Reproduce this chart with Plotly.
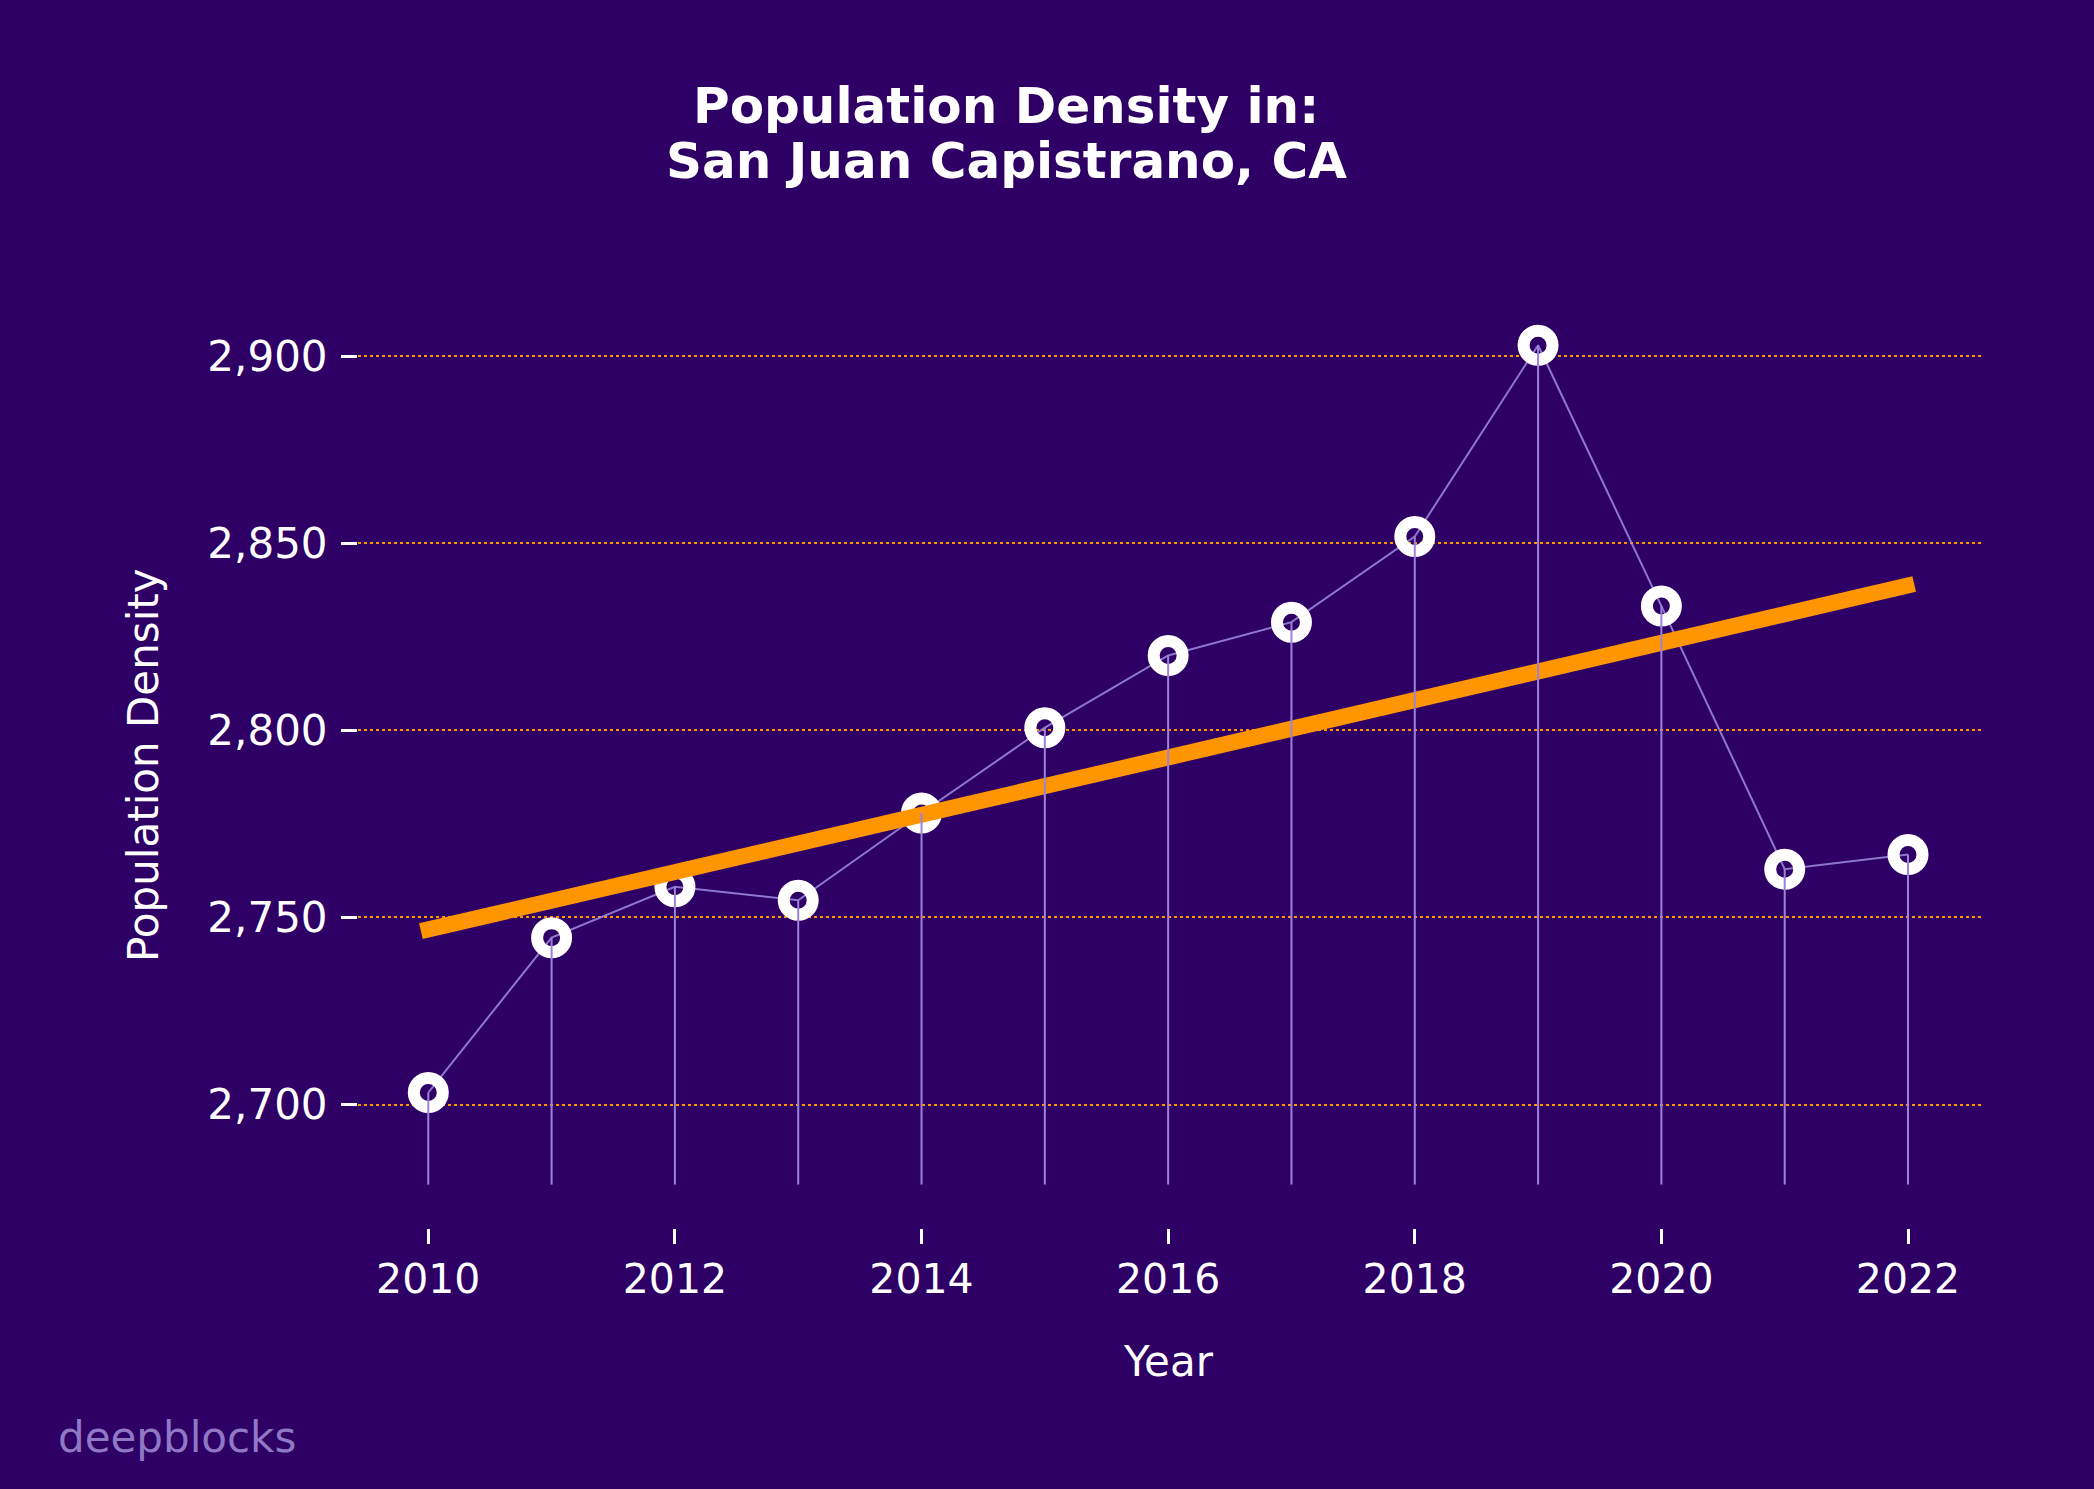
import numpy as np
import plotly.graph_objects as go

years = [2010, 2011, 2012, 2013, 2014, 2015, 2016, 2017, 2018, 2019, 2020, 2021, 2022]
density = [2703.2, 2744.6, 2758.2, 2754.6, 2777.9, 2800.7, 2820.0, 2828.9, 2851.8, 2902.9, 2833.2, 2762.9, 2766.8]
stem_base = 2678.6
y_ticks = [2700, 2750, 2800, 2850, 2900]
x_ticks = [2010, 2012, 2014, 2016, 2018, 2020, 2022]
title_lines = ["Population Density in:", "San Juan Capistrano, CA"]

BG = "#2e0066"
FONT = "DejaVu Sans"

# plot-area geometry (pixels) used to place paper-referenced text
L, T, W, H = 358, 300, 1624, 928


def py(pix):
    return (T + H - pix) / H


def px(pix):
    return (pix - L) / W


# linear trend
slope, intercept = np.polyfit(years, density, 1)
trend_x = [years[0] - 0.06, years[-1] + 0.05]
trend_y = [slope * x + intercept for x in trend_x]

stem_x, stem_y = [], []
for x, y in zip(years, density):
    stem_x += [x, x, None]
    stem_y += [stem_base, y, None]

fig = go.Figure()
fig.add_trace(go.Scatter(x=years, y=density, mode="lines",
                         line=dict(color="rgba(160,140,225,0.85)", width=2), showlegend=False))
fig.add_trace(go.Scatter(x=years, y=density, mode="markers",
                         marker=dict(size=29, color="rgba(0,0,0,0)",
                                     line=dict(color="white", width=12)),
                         showlegend=False))
fig.add_trace(go.Scatter(x=trend_x, y=trend_y, mode="lines",
                         line=dict(color="#ff9500", width=16), showlegend=False))
fig.add_trace(go.Scatter(x=stem_x, y=stem_y, mode="lines",
                         line=dict(color="#9b83dd", width=2), hoverinfo="skip", showlegend=False))

fig.update_layout(
    width=2094, height=1489,
    paper_bgcolor=BG, plot_bgcolor=BG,
    margin=dict(l=L, r=2094 - L - W, t=T, b=1489 - T - H, autoexpand=False),
    font=dict(family=FONT, color="white", size=42),
    xaxis=dict(range=[2009.43, 2022.6], tickvals=x_ticks, ticks="outside", ticklen=15,
               tickwidth=3, tickcolor="white", showgrid=False, zeroline=False,
               showline=False, tickfont=dict(size=41, color="white")),
    yaxis=dict(range=[2667.0, 2915.0], tickvals=y_ticks, tickformat=",", ticks="outside",
               ticklen=16, tickwidth=3, tickcolor="white", showgrid=True,
               gridcolor="#ff9500", gridwidth=2, griddash="dot", zeroline=False,
               showline=False, ticklabelstandoff=5, tickfont=dict(size=42, color="white")),
    annotations=[
        dict(text="<b>%s</b>" % title_lines[0], xref="paper", yref="paper", x=px(1006),
             y=py(106), xanchor="center", yanchor="middle", showarrow=False,
             font=dict(size=50, color="white")),
        dict(text="<b>%s</b>" % title_lines[1], xref="paper", yref="paper", x=px(1006),
             y=py(161), xanchor="center", yanchor="middle", showarrow=False,
             font=dict(size=50, color="white")),
        dict(text="Year", xref="paper", yref="paper", x=px(1168.6),
             y=py(1361), xanchor="center", yanchor="middle", showarrow=False,
             font=dict(size=42, color="white")),
        dict(text="Population Density", xref="paper", yref="paper", x=px(143),
             y=py(765), xanchor="center", yanchor="middle", textangle=-90,
             showarrow=False, font=dict(size=42, color="white")),
        dict(text="deepblocks", xref="paper", yref="paper", x=px(56),
             y=py(1437), xanchor="left", yanchor="middle", showarrow=False,
             font=dict(size=42, color="#8f78c4")),
    ],
)

fig.write_html("out.html", config={"displayModeBar": False},
               post_script="document.body.style.margin='0';")
